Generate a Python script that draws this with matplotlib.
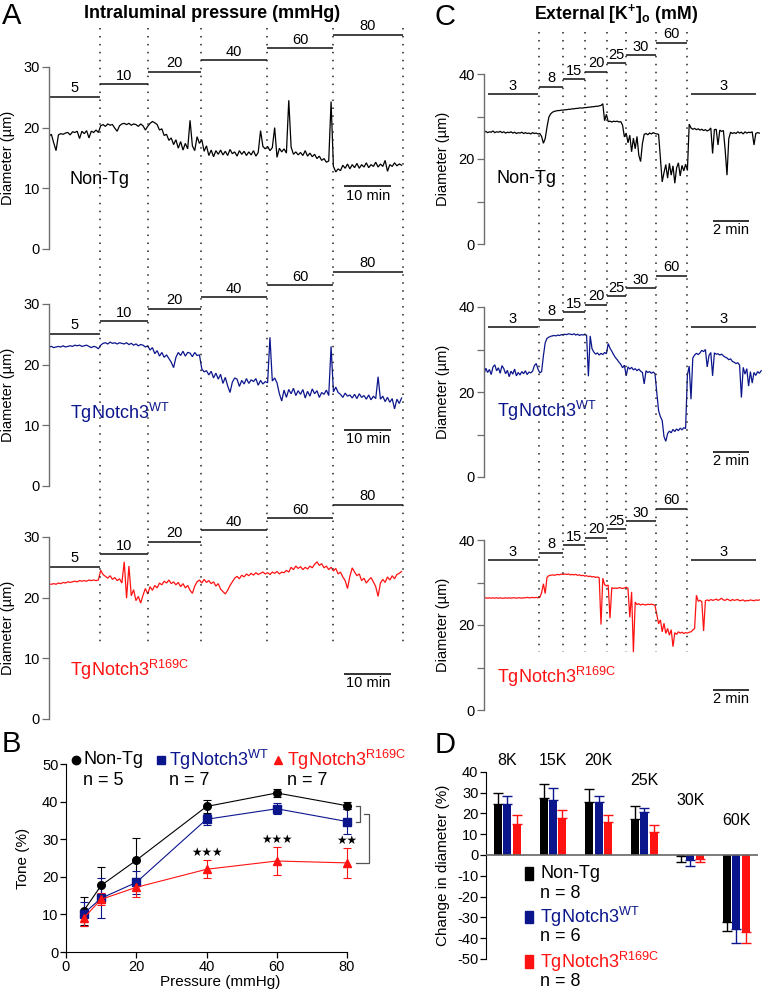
import numpy as np
import matplotlib
matplotlib.use('Agg')
import matplotlib.pyplot as plt
import matplotlib.transforms as mtransforms
from matplotlib.lines import Line2D
from matplotlib.patches import Rectangle

plt.rcParams['font.family'] = ['Liberation Sans', 'DejaVu Sans']
plt.rcParams['mathtext.fontset'] = 'custom'
plt.rcParams['mathtext.rm'] = 'Liberation Sans'
plt.rcParams['mathtext.bf'] = 'Liberation Sans:bold'
plt.rcParams['axes.unicode_minus'] = False

# ---------------- DATA ----------------
# Panel A: diameter traces (um), sampled every 0.5 min
A_STEP = 0.5
a_nontg = [
    18.6, 18.9, 17.5, 16.2, 18.8, 19.0, 18.9, 19.1, 19.2, 18.8,
    19.3, 19.2, 19.4, 18.2, 19.4, 19.0, 19.5, 18.3, 19.4, 19.2,
    19.6, 19.2, 20.3, 20.5, 20.2, 20.6, 20.4, 20.5, 19.9, 19.4,
    20.3, 20.6, 20.7, 20.5, 20.7, 20.4, 20.6, 20.5, 20.2, 20.6,
    20.3, 19.6, 20.2, 20.7, 21.0, 20.8, 20.5, 19.6, 19.8, 18.7,
    18.9, 17.9, 18.3, 17.2, 18.0, 16.6, 17.7, 16.3, 17.4, 16.5,
    21.2, 17.0, 16.2, 18.5, 17.4, 18.0, 16.1, 17.0, 15.4, 16.3,
    15.2, 16.2, 15.6, 16.3, 15.5, 16.1, 15.4, 16.4, 15.7, 16.0,
    15.3, 16.2, 15.6, 16.1, 15.4, 16.0, 15.5, 16.2, 15.3, 15.9,
    19.5, 16.9, 16.5, 16.9, 16.2, 16.7, 20.0, 15.1, 16.6, 16.0,
    16.5, 15.8, 24.5, 16.8, 15.6, 16.0, 15.5, 15.9, 15.4, 16.2,
    15.3, 15.8, 15.2, 15.6, 14.9, 15.3, 14.6, 14.9, 14.3, 14.5,
    24.3, 13.6, 12.7, 13.2, 12.9, 13.8, 13.3, 14.0, 13.2, 13.9,
    13.4, 14.1, 13.3, 13.9, 13.5, 14.2, 13.4, 13.9, 13.6, 14.3,
    13.5, 14.0, 13.6, 14.6, 12.8, 13.9, 13.6, 14.2, 13.7, 14.0,
    13.8]
a_wt = [
    22.9, 23.0, 22.8, 22.9, 23.0, 22.9, 23.1, 22.9, 23.0, 23.1,
    23.0, 23.2, 23.1, 23.2, 23.0, 23.1, 23.2, 23.0, 22.8, 23.0,
    22.9, 22.6, 23.2, 23.5, 23.6, 23.4, 23.7, 23.5, 23.6, 23.4,
    23.6, 23.5, 23.4, 23.6, 23.3, 23.5, 23.2, 23.4, 23.1, 23.3,
    23.2, 22.9, 23.1, 22.4, 22.8, 21.8, 22.3, 21.4, 22.0, 21.2,
    21.6, 21.0, 20.4, 19.5, 21.2, 22.0, 21.5, 22.2, 21.4, 22.0,
    21.9, 21.3, 22.0, 21.5, 21.6, 19.3, 18.8, 19.0, 18.3, 18.9,
    17.8, 18.6, 17.6, 18.4, 16.9, 17.9, 16.5, 15.4, 17.1, 17.8,
    17.6, 16.4, 17.4, 16.8, 17.7, 16.9, 17.5, 17.2, 17.7, 16.6,
    17.4, 16.8, 17.2, 17.0, 24.5, 17.3, 17.8, 17.0, 15.2, 14.0,
    15.8, 14.6, 15.9, 15.2, 16.1, 14.9, 15.7, 15.1, 15.9, 14.5,
    15.6, 14.8, 16.0, 15.2, 15.7, 14.6, 15.4, 15.1, 15.8, 14.9,
    23.0, 15.5, 16.3, 15.4, 15.1, 14.6, 15.3, 14.8, 15.0, 14.5,
    15.1, 14.4, 15.2, 14.6, 14.9, 14.3, 15.0, 14.2, 14.8, 14.4,
    18.0, 14.3, 14.8, 13.9, 14.6, 13.8, 14.4, 12.7, 14.3, 13.6,
    14.5]
a_r169c = [
    22.2, 22.2, 22.3, 22.2, 22.4, 22.3, 22.5, 22.4, 22.6, 22.5,
    22.6, 22.7, 22.6, 22.8, 22.7, 22.8, 22.7, 22.9, 22.8, 22.9,
    22.8, 22.9, 24.5, 23.8, 23.5, 23.2, 23.6, 23.0, 23.3, 22.8,
    23.1, 22.4, 25.9, 19.9, 25.2, 20.3, 21.3, 19.5, 20.2, 19.1,
    20.4, 21.5, 20.6, 21.8, 21.2, 22.0, 21.6, 22.4, 22.1, 22.7,
    22.4, 22.9, 22.3, 22.6, 22.1, 22.5, 21.8, 22.3, 21.6, 22.0,
    21.2, 20.7, 21.9, 22.6, 22.9, 22.4, 23.0, 22.5, 22.8, 22.3,
    22.6, 21.9, 22.3, 21.4, 21.0, 20.6, 21.2, 22.0, 22.6, 23.2,
    23.5, 23.1, 23.7, 23.4, 23.9, 23.6, 24.0, 23.7, 24.1, 23.8,
    24.0, 24.2, 23.9, 24.1, 23.8, 24.2, 24.0, 24.3, 23.9, 24.2,
    24.1, 24.5, 24.2, 25.0, 24.6, 25.2, 24.8, 25.1, 24.6, 25.0,
    24.7, 25.2, 24.9, 25.5, 25.9, 25.3, 25.6, 24.9, 25.2, 24.6,
    25.0, 24.4, 24.8, 23.9, 24.2, 23.4, 22.8, 21.5, 23.5, 24.9,
    24.2, 23.6, 23.9, 22.8, 23.2, 22.4, 22.9, 23.3, 22.6, 21.8,
    20.2, 22.4, 23.0, 22.5, 23.4, 22.9, 23.6, 23.1, 23.8, 24.0,
    24.3]
# Pressure protocol (mmHg) and step boundaries (min)
a_pressures = ['5', '10', '20', '40', '60', '80']
a_step_start = [0.0, 10.9, 21.1, 32.3, 46.4, 60.4]
a_step_end = [10.9, 21.1, 32.3, 46.4, 60.4, 75.3]
a_step_level = [25.1, 27.2, 29.2, 31.1, 33.1, 35.3]

# Panel C: diameter traces (um), sampled every 0.1 min
C_STEP = 0.1
c_nontg = [
    26.3, 26.5, 26.2, 26.4, 26.3, 26.6, 26.2, 26.4, 26.3, 26.5,
    26.2, 26.4, 26.1, 26.3, 26.2, 26.4, 26.1, 26.3, 26.0, 26.2,
    26.1, 26.3, 26.0, 26.2, 26.0, 26.1, 25.9, 26.2, 26.0, 26.1,
    25.9, 26.0, 25.3, 23.7, 24.8, 27.5, 29.8, 30.6, 31.0, 31.2,
    31.3, 31.4, 31.4, 31.5, 31.5, 31.6, 31.6, 31.7, 31.7, 31.8,
    31.8, 31.9, 31.9, 32.0, 32.0, 32.0, 32.1, 32.1, 32.2, 32.2,
    32.3, 32.3, 32.4, 32.4, 32.5, 32.6, 33.0, 29.0, 30.5, 28.8,
    28.9, 28.7, 28.9, 28.8, 28.9, 28.7, 28.8, 27.9, 25.2, 26.1,
    23.8, 25.6, 21.7, 24.9, 22.4, 25.3, 20.9, 19.4, 23.6, 25.8,
    26.0, 25.7, 26.1, 25.9, 26.2, 26.0, 25.9, 25.8, 20.1, 14.6,
    16.8, 18.7, 15.5, 19.0, 16.2, 18.4, 14.3, 17.9, 19.1, 16.0,
    18.5, 17.2, 18.8, 17.3, 28.2, 27.3, 27.0, 27.2, 26.9, 27.1,
    26.8, 27.0, 26.7, 26.9, 26.6, 26.8, 27.3, 21.3, 26.9, 27.0,
    23.3, 26.8, 26.5, 26.7, 22.0, 16.2, 24.8, 26.3, 26.0, 26.2,
    26.0, 26.4, 26.1, 26.3, 25.9, 26.4, 26.1, 26.3, 26.2, 26.4,
    23.3, 26.0, 26.2, 26.1]
c_wt = [
    24.2, 25.6, 24.6, 25.3, 24.1, 25.9, 26.4, 25.0, 25.7, 24.4,
    26.2, 25.5, 24.3, 25.1, 23.6, 24.9, 24.2, 25.4, 23.8, 24.6,
    24.0, 24.8, 24.3, 25.0, 24.1, 24.7, 24.5, 24.9, 26.2, 26.7,
    25.4, 24.5, 24.8, 28.5, 31.6, 32.6, 32.9, 33.1, 33.2, 33.3,
    33.2, 33.4, 33.3, 33.5, 33.4, 33.6, 33.5, 33.7, 33.6, 33.5,
    33.7, 33.4, 33.6, 33.3, 33.5, 33.4, 33.6, 33.3, 23.7, 33.2,
    30.2, 29.4, 28.9, 29.2, 28.7, 29.1, 28.8, 29.3, 29.0, 31.4,
    30.3, 29.6, 28.8, 28.1, 27.6, 27.0, 26.5, 25.7, 26.3, 23.8,
    25.9, 25.4, 25.8, 25.2, 25.5, 25.0, 25.4, 24.9, 24.6, 21.9,
    25.0, 24.6, 24.8, 24.4, 24.7, 24.3, 19.8, 15.6, 14.2, 13.3,
    9.5, 8.4, 10.2, 10.8, 10.4, 11.2, 10.7, 11.3, 10.9, 11.5,
    11.1, 11.6, 11.4, 24.0, 26.1, 18.3, 28.0, 28.7, 29.1, 28.8,
    29.2, 29.8, 29.5, 30.0, 25.9, 28.6, 29.3, 23.8, 29.2, 28.9,
    29.0, 28.7, 28.9, 28.5, 28.2, 28.0, 27.6, 27.8, 27.2, 27.0,
    26.7, 26.9, 26.3, 18.7, 25.8, 24.2, 25.5, 21.4, 24.8, 22.1,
    24.6, 23.9, 24.8, 24.4, 25.0]
c_r169c = [
    26.3, 26.4, 26.3, 26.4, 26.3, 26.4, 26.3, 26.4, 26.3, 26.4,
    26.3, 26.3, 26.4, 26.3, 26.4, 26.3, 26.4, 26.4, 26.3, 26.4,
    26.4, 26.3, 26.4, 26.4, 26.5, 26.4, 26.4, 26.5, 26.4, 26.5,
    26.4, 26.5, 27.6, 29.7, 27.4, 31.2, 31.6, 31.7, 31.8, 31.7,
    31.8, 31.9, 31.8, 32.0, 31.9, 32.0, 31.9, 32.0, 31.8, 31.9,
    31.8, 31.9, 31.7, 31.8, 31.6, 31.7, 31.5, 31.6, 31.4, 31.5,
    31.3, 31.4, 31.2, 31.3, 31.1, 20.1, 31.0, 29.5, 29.2, 29.4,
    21.6, 28.8, 28.6, 28.7, 28.6, 28.8, 28.7, 28.6, 28.7, 28.9,
    28.6, 21.8, 27.8, 13.6, 25.4, 24.8, 25.0, 24.7, 24.9, 24.8,
    24.7, 24.9, 24.8, 24.9, 24.8, 24.6, 22.4, 20.3, 21.2, 18.4,
    20.4, 18.0, 19.2, 17.6, 18.9, 14.9, 18.2, 17.8, 18.4, 18.1,
    18.3, 18.0, 18.2, 18.1, 18.3, 18.4, 18.8, 19.2, 27.0, 25.6,
    25.8, 25.5, 18.6, 25.7, 25.9, 25.7, 26.0, 25.8, 25.9, 26.1,
    25.8, 26.0, 26.3, 25.9, 25.8, 26.1, 25.9, 25.7, 26.0, 25.8,
    25.9, 26.0, 25.7, 25.8, 25.9, 25.6, 25.8, 25.7, 25.9, 25.8,
    25.7, 25.9, 25.8, 25.9]
# K+ protocol (mM) and step boundaries (min)
c_k = ['3', '8', '15', '20', '25', '30', '60', '3']
c_step_start = [0.2, 3.06, 4.39, 5.61, 6.83, 7.89, 9.56, 11.5]
c_step_end = [3.0, 4.39, 5.61, 6.83, 7.89, 9.56, 11.28, 15.1]
c_step_level = [35.2, 37.0, 38.8, 40.5, 42.5, 44.4, 47.4, 35.2]
c_boundaries = [3.06, 4.39, 5.61, 6.83, 7.89, 9.56, 11.28]

# Panel B: tone vs pressure
pressure = [5, 10, 20, 40, 60, 80]
tone_nontg = [10.9, 17.7, 24.4, 38.7, 42.3, 38.9]
sem_nontg = [3.8, 4.8, 5.8, 1.6, 1.0, 0.9]
tone_wt = [10.2, 14.3, 18.5, 35.3, 38.1, 34.7]
sem_wt = [3.2, 5.3, 3.0, 1.5, 1.4, 3.3]
tone_r169c = [9.0, 14.0, 17.2, 22.0, 24.2, 23.7]
sem_r169c = [2.0, 1.6, 2.6, 2.4, 3.6, 3.9]
stars_b = ['', '', '', '★★★', '★★★', '★★']

# Panel D: change in diameter (%)
k_groups = ['8K', '15K', '20K', '25K', '30K', '60K']
d_nontg = [24.4, 27.6, 25.5, 17.1, -0.3, -32.0]
d_nontg_err = [5.2, 6.5, 6.4, 6.6, 3.1, 4.4]
d_wt = [24.4, 26.4, 25.3, 20.7, -2.4, -35.7]
d_wt_err = [4.1, 6.0, 3.2, 1.9, 2.9, 6.6]
d_r169c = [14.9, 17.8, 16.0, 10.9, -1.8, -37.0]
d_r169c_err = [4.5, 3.8, 3.1, 3.4, 1.6, 5.5]

# ---------------- STYLE ----------------
BLACK = '#000000'
NAVY = '#0c168c'
RED = '#ff1212'
AXC = '#6e6e6e'

W, H = 765, 993
fig = plt.figure(figsize=(W / 100, H / 100), dpi=100)


def px_axes(x0, x1, y_zero, ppu, ymin, ymax):
    ytop = y_zero - ymax * ppu
    ybot = y_zero - ymin * ppu
    ax = fig.add_axes([x0 / W, 1 - ybot / H, (x1 - x0) / W, (ybot - ytop) / H])
    ax.set_ylim(ymin, ymax)
    ax.patch.set_alpha(0)
    return ax


def trace_panel(x0, x1, xmax, y_zero, ppu, ymax, top_tick, major, minor,
                t_step, values, color, name, name_xy, starts, ends, levels,
                labels, scale_x, scale_len, scale_y, scale_txt, ylab_x, ylab_y):
    ax = px_axes(x0, x1, y_zero, ppu, 0, ymax)
    ax.set_xlim(0, xmax)
    t = np.arange(len(values)) * t_step
    ax.plot(t, values, color=color, lw=0.9, solid_joinstyle='miter')
    for s in ['top', 'right', 'bottom']:
        ax.spines[s].set_visible(False)
    ax.spines['left'].set_bounds(0, top_tick)
    ax.spines['left'].set_color(AXC)
    ax.spines['left'].set_linewidth(1.0)
    ax.set_xticks([])
    ax.set_yticks(major)
    ax.set_yticks(minor, minor=True)
    ax.tick_params(axis='y', which='both', length=5, width=0.9, color=AXC,
                   labelsize=10.5, pad=1.5)
    ax.hlines(levels, starts, ends, colors='#333333', lw=1.3, clip_on=False)
    for s, e, lv, lb in zip(starts, ends, levels, labels):
        ax.annotate(lb, ((s + e) / 2, lv), xytext=(0, 1.0), textcoords='offset points',
                    ha='center', va='bottom', fontsize=10.5, annotation_clip=False)
    ax.text(name_xy[0], name_xy[1], name, color=color, fontsize=13, ha='left', va='center')
    ax.hlines(scale_y, scale_x, scale_x + scale_len, colors='#222222', lw=1.3)
    ax.annotate(scale_txt, (scale_x + scale_len / 2, scale_y), xytext=(0, -1.5),
                textcoords='offset points', ha='center', va='top', fontsize=10.5)
    ax.set_ylabel('Diameter (µm)', fontsize=10.5)
    ax.yaxis.set_label_coords(ylab_x, ylab_y)
    return ax


WT_NAME = r'TgNotch3$^{\mathrm{WT}}$'
RC_NAME = r'TgNotch3$^{\mathrm{R169C}}$'

# ---------------- PANEL A ----------------
A_X0, A_X1, A_XMAX = 49, 403, 75.3
A_PPU = 6.07
a_specs = [(249, a_nontg, BLACK, 'Non-Tg', 11.4, 10.3),
           (486, a_wt, NAVY, WT_NAME, 12.0, 9.2),
           (719, a_r169c, RED, RC_NAME, 8.1, 7.4)]
a_axes = []
for yz, vals, col, nm, ny, sy in a_specs:
    ax = trace_panel(A_X0, A_X1, A_XMAX, yz, A_PPU, 37, 30, [0, 10, 20, 30], [],
                     A_STEP, vals, col, nm, (4.4, ny), a_step_start, a_step_end,
                     a_step_level, a_pressures, 62.8, 10, sy, '10 min',
                     (15 - A_X0) / (A_X1 - A_X0), 15 / 37)
    a_axes.append(ax)

# dotted boundary lines across panel A
trA = mtransforms.blended_transform_factory(a_axes[0].transData, fig.transFigure)
for b in a_step_end:
    fig.add_artist(Line2D([b, b], [1 - 28 / H, 1 - 647 / H], transform=trA,
                          color='#222222', lw=1.1, ls=(0, (1, 4.2))))

# ---------------- PANEL C ----------------
C_X0, C_X1, C_XMAX = 484, 763, 15.5
c_specs = [(244, 4.25, c_nontg, BLACK, 'Non-Tg', 15.3, 5.4),
           (477, 4.25, c_wt, NAVY, WT_NAME, 15.5, 5.9),
           (710, 4.25, c_r169c, RED, RC_NAME, 7.8, 4.7)]
c_axes = []
for yz, ppu, vals, col, nm, ny, sy in c_specs:
    ax = trace_panel(C_X0, C_X1, C_XMAX, yz, ppu, 50, 40, [0, 20, 40], [10, 30],
                     C_STEP, vals, col, nm, (0.7, ny), c_step_start, c_step_end,
                     c_step_level, c_k, 12.7, 2, sy, '2 min',
                     (450 - C_X0) / (C_X1 - C_X0), 20 / 50)
    c_axes.append(ax)

trC = mtransforms.blended_transform_factory(c_axes[0].transData, fig.transFigure)
for b in c_boundaries:
    fig.add_artist(Line2D([b, b], [1 - 32 / H, 1 - 652 / H], transform=trC,
                          color='#222222', lw=1.1, ls=(0, (1, 4.2))))

# ---------------- PANEL B ----------------
B_PPX = 3.5125
B_PPU = 3.76
axb = fig.add_axes([66 / W, 1 - 952 / H, 88 * B_PPX / W, 55 * B_PPU / H])
axb.patch.set_alpha(0)
axb.set_xlim(0, 88)
axb.set_ylim(0, 55)
for s in ['top', 'right']:
    axb.spines[s].set_visible(False)
axb.spines['left'].set_bounds(0, 50)
axb.spines['bottom'].set_bounds(0, 80)
axb.set_xticks([0, 20, 40, 60, 80])
axb.set_yticks([0, 10, 20, 30, 40, 50])
axb.tick_params(length=4, width=0.9, labelsize=10.5, pad=1.5)
axb.set_xlabel('Pressure (mmHg)', fontsize=11, labelpad=1)
axb.set_ylabel('Tone (%)', fontsize=11)
axb.yaxis.set_label_coords((30 - 66) / (88 * B_PPX), 25 / 55)

for tone, sem, col, mk, ms in [(tone_nontg, sem_nontg, BLACK, 'o', 5.5),
                               (tone_wt, sem_wt, NAVY, 's', 5.5),
                               (tone_r169c, sem_r169c, RED, '^', 5.5)]:
    axb.errorbar(pressure, tone, yerr=sem, color=col, marker=mk, ms=ms, lw=0.8,
                 elinewidth=0.8, capsize=3, capthick=0.8, clip_on=False)

for p, tn, sm, st in zip(pressure, tone_r169c, sem_r169c, stars_b):
    if st:
        axb.text(p, tn + sm + 2.1, st, ha='center', va='center', fontsize=8.5,
                 family='DejaVu Sans')

# significance brackets
nt80, wt80, rc80 = tone_nontg[-1], tone_wt[-1], tone_r169c[-1]
mid = (nt80 + wt80) / 2
axb.plot([82.6, 83.7, 83.7, 82.6], [nt80, nt80, wt80, wt80], color='#555555',
         lw=0.9, clip_on=False)
axb.plot([84.9, 86.3, 86.3, 82.6], [mid, mid, rc80, rc80], color='#555555',
         lw=0.9, clip_on=False)

# legend for B
b_leg = [(2.85, 4.84, BLACK, 'o', 'Non-Tg', 'n = 5'),
         (27.0, 29.3, NAVY, 's', WT_NAME, 'n = 7'),
         (60.4, 62.9, RED, '^', RC_NAME, 'n = 7')]
for mx, tx, col, mk, nm, nn in b_leg:
    axb.plot([mx], [51.1], marker=mk, color=col, ms=6, clip_on=False, ls='none')
    axb.text(tx, 51.1, nm, color=col, fontsize=13, ha='left', va='center')
    axb.text(tx, 45.7, nn, color=BLACK, fontsize=13, ha='left', va='center')

# ---------------- PANEL D ----------------
D_PPU = 2.08
axd = fig.add_axes([486 / W, 1 - 959 / H, (758 - 486) / W, 90 * D_PPU / H])
axd.patch.set_alpha(0)
axd.set_ylim(-50, 40)
axd.set_xlim(-0.46, 5.48)
xg = np.arange(len(k_groups))
bw = 0.175
for off, vals, errs, col in [(-0.2, d_nontg, d_nontg_err, BLACK),
                             (0.0, d_wt, d_wt_err, NAVY),
                             (0.21, d_r169c, d_r169c_err, RED)]:
    vals = np.array(vals)
    errs = np.array(errs)
    lower = np.where(vals < 0, errs, 0)
    upper = np.where(vals >= 0, errs, 0)
    axd.errorbar(xg + off, vals, yerr=[lower, upper], fmt='none', ecolor=col,
                 elinewidth=1.0, capsize=3.5, capthick=1.0, zorder=2)
    axd.bar(xg + off, vals, width=bw, color=col, zorder=3)
axd.axhline(0, color='#666666', lw=1.2, zorder=4)
for s in ['top', 'right', 'bottom']:
    axd.spines[s].set_visible(False)
axd.spines['left'].set_bounds(-50, 40)
axd.set_xticks([])
axd.set_yticks(np.arange(-50, 41, 10))
axd.tick_params(axis='y', length=4, width=0.9, labelsize=10.5, pad=1.5)
axd.set_ylabel('Change in diameter (%)', fontsize=11)
axd.yaxis.set_label_coords((450 - 486) / (758 - 486), 0.5)

d_label_y = [45.6, 45.6, 45.6, 36.0, 26.0, 16.8]
for x, lb, ly in zip(xg, k_groups, d_label_y):
    axd.text(x, ly, lb, ha='center', va='center', fontsize=11.5)

d_leg = [(-8.7, BLACK, 'Non-Tg', 'n = 8'),
         (-29.8, NAVY, WT_NAME, 'n = 6'),
         (-51.4, RED, RC_NAME, 'n = 8')]
for ly, col, nm, nn in d_leg:
    axd.add_patch(Rectangle((0.395, ly - 3.1), 0.175, 6.2, color=col, clip_on=False))
    axd.text(0.72, ly, nm, color=col, fontsize=13, ha='left', va='center')
    axd.text(0.72, ly - 9.6, nn, color=BLACK, fontsize=13, ha='left', va='center')

# ---------------- TITLES & LETTERS ----------------
fig.text(2 / W, 1 - 16 / H, 'A', fontsize=21, va='center', ha='left')
fig.text(435 / W, 1 - 17 / H, 'C', fontsize=21, va='center', ha='left')
fig.text(2 / W, 1 - 744 / H, 'B', fontsize=21, va='center', ha='left')
fig.text(435 / W, 1 - 745 / H, 'D', fontsize=21, va='center', ha='left')
fig.text(212 / W, 1 - 13 / H, 'Intraluminal pressure (mmHg)', fontsize=13,
         fontweight='bold', ha='center', va='center')
fig.text(616 / W, 1 - 14 / H, r'External [K$^{\mathbf{+}}$]$_{\mathbf{o}}$ (mM)',
         fontsize=12.8, fontweight='bold', ha='center', va='center')

fig.savefig('out.png', dpi=100)
